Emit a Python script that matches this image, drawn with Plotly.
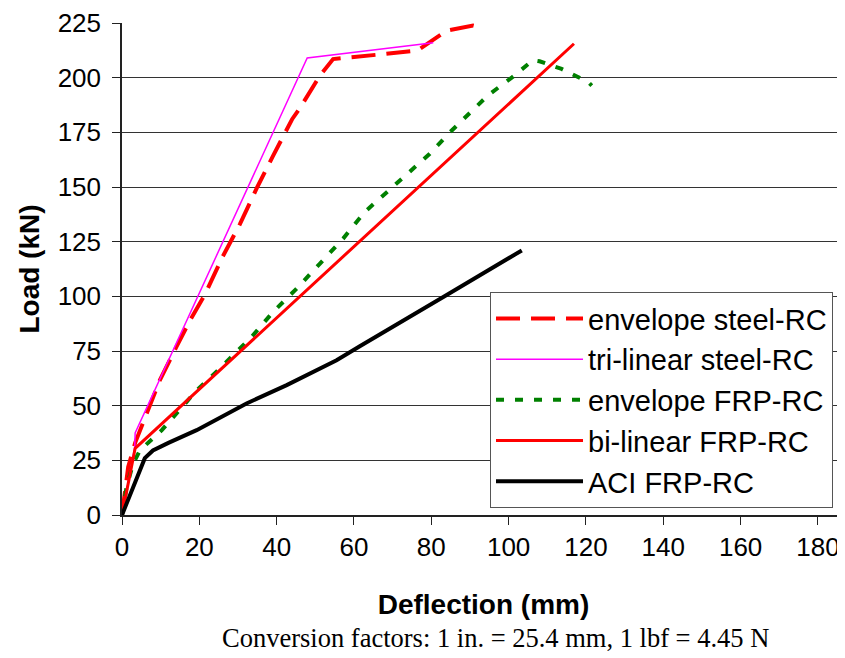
import plotly.graph_objects as go

# Deflection (mm) / Load (kN) series
env_steel_x = [0, 1.6, 3.4, 9.8, 14.1, 17.6, 21.5, 26, 30.5, 35, 39, 42, 44, 46, 49, 51.2, 54.6, 58, 66, 76.5, 80, 84, 90.8, 92.6]
env_steel_y = [0, 22, 33, 61.7, 77, 89, 101, 118, 133, 150, 164, 174, 181, 186, 195, 201, 208.5, 209, 210.5, 212.5, 216.5, 221.5, 223.8, 223]

tri_steel_x = [0, 3.3, 3.4, 47.9, 80.5]
tri_steel_y = [0, 31, 37.5, 209, 216]

env_frp_x = [0, 1.2, 2.9, 4.7, 10.3, 15, 19.3, 25.3, 33.5, 39.1, 45.2, 51.2, 57.2, 62.8, 69.3, 74.5, 79.6, 84.8, 89.6, 94.7, 100.8, 106.3, 108, 113.7, 120.6, 121.5]
env_frp_y = [0, 13, 23.6, 29.7, 38.8, 48, 57, 67, 81.4, 92.9, 103.6, 115, 126.4, 138.6, 148.8, 156.8, 165.2, 175, 183.5, 192, 200, 208, 207.5, 204, 198, 196.4]

bi_frp_x = [0, 3.4, 116.9]
bi_frp_y = [0, 30.5, 215.5]

aci_frp_x = [0, 5.9, 8, 12, 19.3, 32.2, 42.6, 55.5, 61.5, 72, 83.1, 103.4]
aci_frp_y = [0, 26, 29.5, 33, 38.8, 51, 59.4, 70.8, 77.2, 88, 99.7, 121]

x_ticks = [0, 20, 40, 60, 80, 100, 120, 140, 160, 180]
y_ticks = [0, 25, 50, 75, 100, 125, 150, 175, 200, 225]

FONT = "Arial, Liberation Sans, sans-serif"

fig = go.Figure()
fig.add_trace(go.Scatter(x=env_steel_x, y=env_steel_y, mode="lines", name="envelope steel-RC",
                         line=dict(color="#ff0000", width=4, dash="24px,11px")))
fig.add_trace(go.Scatter(x=tri_steel_x, y=tri_steel_y, mode="lines", name="tri-linear steel-RC",
                         line=dict(color="#ff00ff", width=1.5)))
fig.add_trace(go.Scatter(x=env_frp_x, y=env_frp_y, mode="lines", name="envelope FRP-RC",
                         line=dict(color="#008000", width=4, dash="8px,11px")))
fig.add_trace(go.Scatter(x=bi_frp_x, y=bi_frp_y, mode="lines", name="bi-linear FRP-RC",
                         line=dict(color="#ff0000", width=3)))
fig.add_trace(go.Scatter(x=aci_frp_x, y=aci_frp_y, mode="lines", name="ACI FRP-RC",
                         line=dict(color="#000000", width=4)))

# the page body adds an 8px offset, so the figure is 8px smaller and its margins shifted
fig.update_layout(
    width=837, height=650,
    margin=dict(l=114, r=0, t=15, b=143),
    plot_bgcolor="white", paper_bgcolor="white",
    font=dict(family=FONT, color="black", size=26),
    showlegend=True,
    legend=dict(x=0.509, y=0.453, xanchor="left", yanchor="top",
                bgcolor="white", bordercolor="#555", borderwidth=1,
                font=dict(family=FONT, size=29, color="black"),
                itemwidth=87, tracegroupgap=0),
    xaxis=dict(range=[0, 187], tickvals=x_ticks, showgrid=False, zeroline=False,
               showline=True, linecolor="#222", linewidth=1.5, automargin=False,
               ticks="outside", ticklen=8, tickcolor="#222",
               tickfont=dict(size=26, family=FONT),
               title=dict(text="<b>Deflection (mm)</b>", font=dict(size=28, family=FONT), standoff=33)),
    yaxis=dict(range=[0, 225], tickvals=y_ticks, showgrid=True, gridcolor="#333", gridwidth=1,
               zeroline=False, showline=True, linecolor="#222", linewidth=1.5, automargin=False,
               ticks="outside", ticklen=8, tickcolor="#222", ticklabelstandoff=6,
               tickfont=dict(size=26, family=FONT),
               title=dict(text="<b>Load (kN)</b>", font=dict(size=28, family=FONT), standoff=10)),
)

fig.add_annotation(text="Conversion factors: 1 in. = 25.4 mm, 1 lbf = 4.45 N",
                   xref="paper", yref="paper", x=0.517, y=-0.25, xanchor="center", yanchor="middle",
                   showarrow=False, font=dict(family="Times New Roman, Liberation Serif, serif", size=26.5, color="black"))

fig.write_html("out.html")
